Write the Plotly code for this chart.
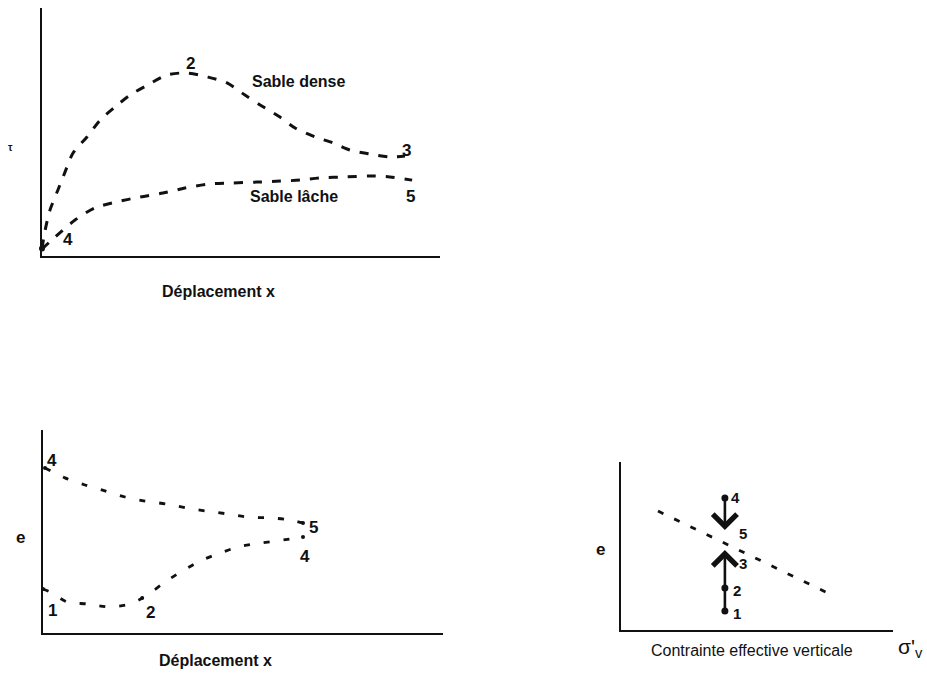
import plotly.graph_objects as go

# --- Panel 1: shear stress vs displacement ---
disp_dense = [0.0, 0.08, 0.2, 0.4, 0.58, 0.78, 1.13, 1.46, 1.83, 2.21, 2.66, 3.14, 3.64,
              4.15, 4.65, 5.1, 5.48, 5.98, 6.36, 6.86, 7.31, 7.74, 8.24, 8.74, 9.12]
tau_dense = [0.3, 1.05, 1.85, 2.66, 3.39, 4.15, 4.8, 5.48, 6.0, 6.49, 6.9, 7.3, 7.38,
             7.22, 6.98, 6.49, 6.09, 5.6, 5.16, 4.8, 4.56, 4.27, 4.11, 3.99, 4.03]
disp_loose = [0.0, 0.33, 0.83, 1.33, 1.88, 2.46, 3.04, 3.59, 4.17, 4.72, 5.4, 5.98,
              6.48, 6.98, 7.66, 8.24, 8.74, 9.3]
tau_loose = [0.28, 0.77, 1.45, 1.94, 2.18, 2.38, 2.54, 2.74, 2.9, 2.94, 2.98, 3.02,
             3.06, 3.15, 3.19, 3.23, 3.19, 3.06]

# --- Panel 2: void ratio vs displacement ---
disp_e_loose = [0.05, 0.55, 1.05, 1.55, 2.05, 2.55, 3.1, 3.6, 4.1, 4.63, 5.13, 5.68, 6.18, 6.5]
e_loose = [8.13, 7.64, 7.29, 7.0, 6.7, 6.5, 6.35, 6.16, 6.0, 5.86, 5.71, 5.67, 5.57, 5.42]
disp_e_dense = [0.0, 0.23, 0.6, 1.13, 1.68, 2.18, 2.48, 2.68, 3.05, 3.48, 3.93, 4.43,
                4.88, 5.43, 6.0, 6.5]
e_dense = [2.17, 1.97, 1.53, 1.43, 1.28, 1.43, 1.72, 1.97, 2.51, 3.05, 3.55, 3.94,
           4.24, 4.43, 4.58, 4.73]

# --- Panel 3: void ratio vs vertical effective stress ---
csl_sigma = [1.36, 7.76]
csl_e = [7.08, 2.08]
sigma_test = 3.82
stage_e = {"1": 1.13, "2": 2.5, "3": 4.76, "4": 7.86, "5": 5.95}

W, H = 927, 677
FONT = "Liberation Sans, Arial, sans-serif"
BLACK = "#111111"

fig = go.Figure()

dash1 = dict(color=BLACK, width=3, dash="9px,10px")
fig.add_trace(go.Scatter(x=disp_dense, y=tau_dense, mode="lines",
                         line=dict(shape="spline", smoothing=0.8, **dash1),
                         xaxis="x", yaxis="y", cliponaxis=False))
fig.add_trace(go.Scatter(x=disp_loose, y=tau_loose, mode="lines",
                         line=dict(shape="spline", smoothing=0.8, **dash1),
                         xaxis="x", yaxis="y", cliponaxis=False))
fig.add_trace(go.Scatter(x=[disp_dense[0]], y=[tau_dense[0]], mode="markers",
                         marker=dict(color=BLACK, size=6), xaxis="x", yaxis="y", cliponaxis=False))

dash2 = dict(color=BLACK, width=2.8, dash="6px,14px")
fig.add_trace(go.Scatter(x=disp_e_loose, y=e_loose, mode="lines",
                         line=dict(shape="spline", smoothing=0.8, **dash2),
                         xaxis="x2", yaxis="y2", cliponaxis=False))
fig.add_trace(go.Scatter(x=disp_e_dense, y=e_dense, mode="lines",
                         line=dict(shape="spline", smoothing=0.8, **dash2),
                         xaxis="x2", yaxis="y2", cliponaxis=False))
fig.add_trace(go.Scatter(x=[disp_e_loose[0], disp_e_loose[-1], disp_e_dense[0], disp_e_dense[6], disp_e_dense[-1]],
                         y=[e_loose[0], e_loose[-1], e_dense[0], e_dense[6], e_dense[-1]],
                         mode="markers", marker=dict(color=BLACK, size=4),
                         xaxis="x2", yaxis="y2", cliponaxis=False))

fig.add_trace(go.Scatter(x=csl_sigma, y=csl_e, mode="lines",
                         line=dict(color=BLACK, width=2.8, dash="6px,12px"),
                         xaxis="x3", yaxis="y3", cliponaxis=False))
fig.add_trace(go.Scatter(x=[sigma_test] * 3, y=[stage_e["4"], stage_e["2"], stage_e["1"]],
                         mode="markers", marker=dict(color=BLACK, size=7),
                         xaxis="x3", yaxis="y3", cliponaxis=False))

annotations = []

def txt(x, y, s, xref, yref, size=17, xanchor="center", yanchor="middle", weight="bold"):
    annotations.append(dict(x=x, y=y, text=s, xref=xref, yref=yref, showarrow=False,
                            xanchor=xanchor, yanchor=yanchor,
                            font=dict(family=FONT, size=size, color=BLACK, weight=weight)))

# Panel 1 labels
txt(-0.55, 0.24, "1", "x", "y")
txt(0.65, 0.65, "4", "x", "y")
txt(3.72, 7.78, "2", "x", "y")
txt(5.23, 7.02, "Sable dense", "x", "y", size=16, xanchor="left")
txt(9.17, 4.27, "3", "x", "y")
txt(5.18, 2.38, "Sable lâche", "x", "y", size=16, xanchor="left")
txt(9.25, 2.38, "5", "x", "y")
txt(10 / W, 1 - 148 / H, "τ", "paper", "paper", size=10)
txt(218 / W, 1 - 291 / H, "Déplacement x", "paper", "paper", size=16)

# Panel 2 labels
txt(0.23, 8.52, "4", "x2", "y2")
txt(6.75, 5.22, "5", "x2", "y2")
txt(6.55, 3.79, "4", "x2", "y2")
txt(0.23, 1.13, "1", "x2", "y2")
txt(2.68, 0.99, "2", "x2", "y2")
txt(20 / W, 1 - 537 / H, "e", "paper", "paper")
txt(215 / W, 1 - 660 / H, "Déplacement x", "paper", "paper", size=16)

# Panel 3 labels
txt(4.2, stage_e["4"], "4", "x3", "y3", size=15)
txt(4.49, 5.77, "5", "x3", "y3", size=15)
txt(4.49, 3.93, "3", "x3", "y3", size=15)
txt(4.26, 2.38, "2", "x3", "y3", size=15)
txt(4.26, 1.01, "1", "x3", "y3", size=15)
txt(600 / W, 1 - 549 / H, "e", "paper", "paper")
txt(752 / W, 1 - 650 / H, "Contrainte effective verticale", "paper", "paper", size=16, weight="normal")
txt(910 / W, 1 - 648 / H, "σ'<sub>v</sub>", "paper", "paper", size=21, weight="normal")

# Arrows: loose sample compacts (4 -> 5), dense sample dilates (1 -> 3)
for tail, head in (("4", "5"), ("1", "3")):
    annotations.append(dict(x=sigma_test, y=stage_e[head], ax=sigma_test, ay=stage_e[tail],
                            xref="x3", yref="y3", axref="x3", ayref="y3", text="",
                            showarrow=True, arrowhead=4, arrowsize=1.8, arrowwidth=2.6,
                            arrowcolor=BLACK, standoff=0, startstandoff=0))

axis_common = dict(showline=True, linecolor=BLACK, linewidth=2, showgrid=False,
                   zeroline=False, showticklabels=False, ticks="", range=[0, 10], fixedrange=True)

fig.update_layout(
    width=W, height=H, margin=dict(l=0, r=0, t=0, b=0),
    paper_bgcolor="white", plot_bgcolor="white", showlegend=False,
    xaxis=dict(domain=[42 / W, 440 / W], anchor="y", **axis_common),
    yaxis=dict(domain=[1 - 256 / H, 1 - 8 / H], anchor="x", **axis_common),
    xaxis2=dict(domain=[43 / W, 443 / W], anchor="y2", **axis_common),
    yaxis2=dict(domain=[1 - 633 / H, 1 - 430 / H], anchor="x2", **axis_common),
    xaxis3=dict(domain=[621 / W, 893 / W], anchor="y3", **axis_common),
    yaxis3=dict(domain=[1 - 630 / H, 1 - 462 / H], anchor="x3", **axis_common),
    annotations=annotations,
)

fig.write_html("out.html")
